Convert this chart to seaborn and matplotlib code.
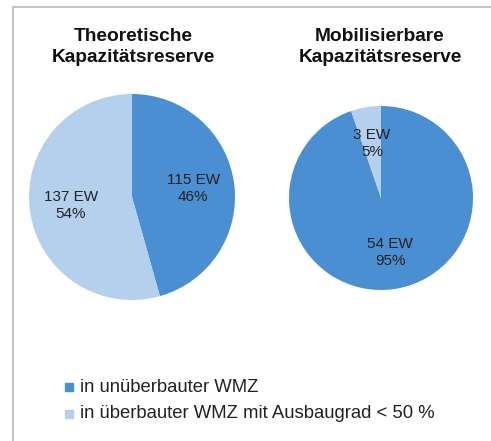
import matplotlib
matplotlib.use("Agg")
import matplotlib.pyplot as plt
import seaborn as sns
from matplotlib.lines import Line2D
from matplotlib.patches import Rectangle

# data
categories = ["in unüberbauter WMZ", "in überbauter WMZ mit Ausbaugrad < 50 %"]
theo_values = [115, 137]
theo_pct = [46, 54]
mobil_values = [54, 3]
mobil_pct = [95, 5]
titles = ["Theoretische\nKapazitätsreserve", "Mobilisierbare\nKapazitätsreserve"]

sns.set_theme(style="white")
plt.rcParams['font.family'] = ['Liberation Sans', 'DejaVu Sans']
colors = ["#4A8FD1", "#B4D0EC"]

fig = plt.figure(figsize=(4.91, 4.41), dpi=100)
W, H = 491, 441

def box(x0, y0, x1, y1):
    return [x0 / W, 1 - y1 / H, (x1 - x0) / W, (y1 - y0) / H]

# frame lines (grey border on left and top)
fig.add_artist(Line2D([13 / W, 13 / W], [0, 1 - 7 / H], color="#c4c4c4", lw=1.5, transform=fig.transFigure))
fig.add_artist(Line2D([13 / W, 1], [1 - 7 / H, 1 - 7 / H], color="#c4c4c4", lw=1.5, transform=fig.transFigure))

ax1 = fig.add_axes(box(29, 94, 235, 300))
ax2 = fig.add_axes(box(289, 106, 473, 290))

for ax, vals, pcts in [(ax1, theo_values, theo_pct), (ax2, mobil_values, mobil_pct)]:
    labels = [f"{v} EW\n{p}%" for v, p in zip(vals, pcts)]
    wedges, texts = ax.pie(vals, colors=colors, startangle=90, counterclock=False,
                           labels=labels, labeldistance=0.6,
                           wedgeprops=dict(linewidth=0, edgecolor="none"),
                           textprops=dict(fontsize=11, color="#222222", ha="center", va="center",
                                          linespacing=1.3))
    ax.set_xlim(-1, 1)
    ax.set_ylim(-1, 1)
    ax.axis("off")

fig.text(133 / W, 1 - 47 / H, titles[0], ha="center", va="center", fontsize=13.8,
         fontweight="bold", color="#111111", linespacing=1.3)
fig.text(380 / W, 1 - 47 / H, titles[1], ha="center", va="center", fontsize=13.8,
         fontweight="bold", color="#111111", linespacing=1.3)

# legend
for i, (cat, col) in enumerate(zip(categories, colors)):
    y = 387 + i * 27
    fig.add_artist(Rectangle((65 / W, 1 - (y + 4) / H), 8 / W, 8 / H, color=col,
                             transform=fig.transFigure))
    fig.text(80 / W, 1 - y / H, cat, ha="left", va="center", fontsize=13.3, color="#222222")

fig.savefig("out.png", dpi=100)
